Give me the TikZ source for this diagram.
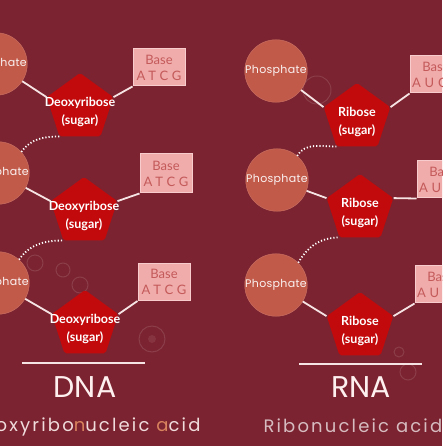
\documentclass[tikz,border=0pt]{standalone}
\usepackage{fontspec}
\setmainfont{Poppins}
\newfontfamily\sugarfont{Lato}
\usetikzlibrary{shapes.geometric}

\definecolor{bgred}{HTML}{7B2330}
\definecolor{phred}{HTML}{C25A4A}
\definecolor{sugred}{HTML}{C20A0C}
\definecolor{basepink}{HTML}{F0ABAB}
\definecolor{baseedge}{HTML}{F8CCCC}
\definecolor{basetext}{HTML}{C45A5A}
\definecolor{linkwhite}{HTML}{F6E4E4}
\definecolor{subwhite}{HTML}{F0DCDC}
\definecolor{subfade}{HTML}{D6BCC0}
\definecolor{hilite}{HTML}{D8825E}

\tikzset{
  phos/.style={circle, fill=phred, draw=phred!85!white, minimum size=62pt, inner sep=0pt,
    text=white!92!phred, font=\fontsize{11}{12}\selectfont\addfontfeatures{LetterSpace=3}},
  sugar/.style={regular polygon, regular polygon sides=5, minimum size=70pt, inner sep=0pt,
    fill=sugred, rounded corners=2pt},
  sugtext/.style={text=white, align=center, yshift=-4pt, inner sep=0pt,
    font=\sugarfont\bfseries\fontsize{12.5}{18}\selectfont},
  basebox/.style={rectangle, fill=basepink, draw=baseedge, line width=1pt, minimum width=52pt,
    minimum height=37pt, inner sep=1pt, align=center, text=basetext,
    font=\sugarfont\fontsize{13}{16}\selectfont},
  link/.style={draw=linkwhite, line width=1.8pt},
  backbone/.style={draw=white, line width=1.8pt, dash pattern=on 1.2pt off 2pt},
  bubble/.style={draw=white, draw opacity=0.12, line width=1pt},
  title/.style={text=white!94!red, font=\fontsize{30}{32}\selectfont},
  subtitle/.style={font=\fontsize{18}{20}\selectfont\addfontfeatures{LetterSpace=12}},
}
\newcommand{\bases}[1]{{\addfontfeatures{LetterSpace=30}#1}}

\begin{document}
\begin{tikzpicture}[x=1pt, y=1pt]
\useasboundingbox (0,0) rectangle (442,446);
\fill[bgred] (0,0) rectangle (442,446);
\clip (0,0) rectangle (442,446);

% bubbles
\draw[bubble] (317,356) circle (14pt);
\draw[bubble] (152,107) circle (13pt);
\fill[white, opacity=0.08] (152,107) circle (4pt);
\draw[bubble] (35,183) circle (8pt);
\draw[bubble] (63,176) circle (7pt);
\draw[bubble] (80,161) circle (8pt);
\draw[bubble] (408,74) circle (8pt);
\draw[bubble] (399,94) circle (5pt);

% DNA
\node[phos] (phD1) at (-4,382) {Phosphate};
\node[sugar] (sugD1) at (80,338) {};
\node[sugtext] (txtD1) at (sugD1) {Deoxyribose\\(sugar)};
\node[basebox] (baseD1) at (159,378.5) {Base\\\bases{ATCG}};
\node[phos] (phD2) at (-2,273) {Phosphate};
\node[sugar] (sugD2) at (84,234) {};
\node[sugtext] (txtD2) at (sugD2) {Deoxyribose\\(sugar)};
\node[basebox, minimum height=39pt] (baseD2) at (166,272.5) {Base\\\bases{ATCG}};
\node[phos] (phD3) at (-2,163) {Phosphate};
\node[sugar] (sugD3) at (85,121) {};
\node[sugtext] (txtD3) at (sugD3) {Deoxyribose\\(sugar)};
\node[basebox] (baseD3) at (164,164) {Base\\\bases{ATCG}};

\draw[link] (phD1) -- (sugD1.corner 2);
\draw[link] (sugD1.corner 5) -- (baseD1.south west);
\draw[link] (phD2) -- (sugD2.corner 2);
\draw[link] (sugD2.corner 5) -- (baseD2.south west);
\draw[link] (phD3) -- (sugD3.corner 2);
\draw[link] (sugD3.corner 5) -- (baseD3.south west);
\draw[backbone] (phD2.42) to[out=55, in=180] (sugD1.corner 3);
\draw[backbone] (phD3.48) to[out=55, in=180] (sugD2.corner 3);

% RNA
\node[phos] (phR1) at (276,375) {Phosphate};
\node[sugar] (sugR1) at (357,328) {};
\node[sugtext] (txtR1) at (sugR1) {Ribose\\(sugar)};
\node[basebox] (baseR1) at (436,371.5) {Base\\\bases{AUCG}};
\node[phos] (phR2) at (277,266) {Phosphate};
\node[sugar] (sugR2) at (360,237) {};
\node[sugtext] (txtR2) at (sugR2) {Ribose\\(sugar)};
\node[basebox] (baseR2) at (443,266.5) {Base\\\bases{AUCG}};
\node[phos] (phR3) at (276,161) {Phosphate};
\node[sugar] (sugR3) at (360,119) {};
\node[sugtext] (txtR3) at (sugR3) {Ribose\\(sugar)};
\node[basebox] (baseR3) at (441,161.5) {Base\\\bases{AUCG}};

\draw[link] (phR1) -- (sugR1.corner 2);
\draw[link] (sugR1.corner 5) -- (baseR1.south west);
\draw[link] (phR2) -- (sugR2.corner 2);
\draw[link] (sugR2.corner 5) -- (baseR2.south west);
\draw[link] (phR3) -- (sugR3.corner 2);
\draw[link] (sugR3.corner 5) -- (baseR3.south west);
\draw[backbone] (phR2.50) to[out=60, in=180] (sugR1.corner 3);
\draw[backbone] (phR3.45) to[out=60, in=180] (sugR2.corner 3);

% titles
\coordinate (ruleDa) at (22,83);
\coordinate (ruleDb) at (145,83);
\draw[linkwhite, line width=1.5pt] (ruleDa) -- (ruleDb);
\node[title] (dna) at (85,59) {DNA};
\node[subtitle, anchor=base east, text=subwhite] (dnafull) at (204,14)
  {Deoxyribo\textcolor{hilite}{n}ucleic \textcolor{hilite}{a}cid};
\coordinate (ruleRa) at (299,82);
\coordinate (ruleRb) at (422,82);
\draw[linkwhite, line width=1.5pt] (ruleRa) -- (ruleRb);
\node[title] (rna) at (361,59) {RNA};
\node[subtitle, anchor=base west, text=subfade] (rnafull) at (260,13) {Ribonucleic acid};
\end{tikzpicture}
\end{document}
